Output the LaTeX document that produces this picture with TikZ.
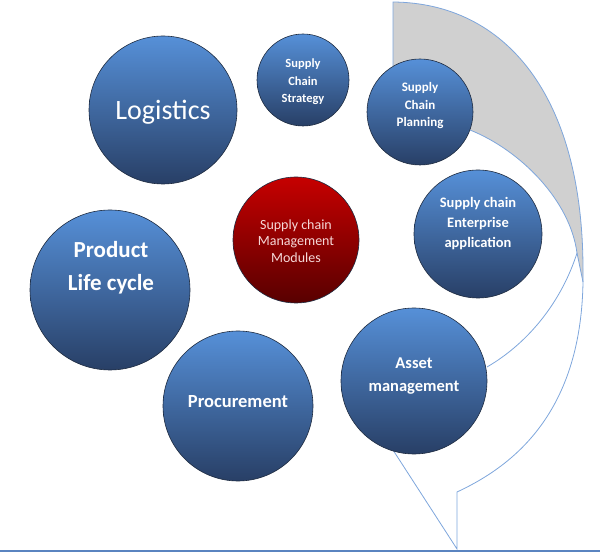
\documentclass[tikz,border=0pt]{standalone}
\usepackage{fontspec}
\setmainfont{Carlito}
\definecolor{bubtop}{HTML}{5690D8}
\definecolor{bubbot}{HTML}{283F66}
\definecolor{bubedge}{HTML}{1E2B40}
\definecolor{redtop}{HTML}{C60000}
\definecolor{redbot}{HTML}{580000}
\definecolor{redtext}{HTML}{F6D8D8}
\definecolor{callout}{HTML}{7EA6DC}
\definecolor{wedge}{HTML}{D0D0D0}
\definecolor{basecol}{HTML}{5A84C0}
\begin{document}
\begin{tikzpicture}[x=1pt,y=-1pt,
  bubble/.style={circle,draw=bubedge,line width=0.6pt,top color=bubtop,bottom color=bubbot,inner sep=0pt},
  redbubble/.style={bubble,top color=redtop,bottom color=redbot},
  bubtext/.style={text=white,align=center,inner sep=0pt}]
\useasboundingbox (0,0) rectangle (600,553);
% grey band behind the planning bubble
\fill[wedge] (393,66) -- (393,2) .. controls (505,3) and (583,95) .. (583,270) -- (583,282)
  -- (577,253) .. controls (570,200) and (520,150) .. (470,130) -- (420,112) -- cycle;
% callout outline
\draw[callout,line width=0.8pt] (393,66) -- (393,2) .. controls (505,3) and (583,95) .. (583,270)
  .. controls (585,410) and (515,465) .. (457,492) -- (457,549) -- (393,450);
\draw[callout,line width=0.8pt] (470,130) .. controls (520,150) and (570,200) .. (577,253) -- (583,282);
\draw[callout,line width=0.8pt] (577,253) .. controls (562,300) and (530,342) .. (487,367);
\draw[basecol,line width=1.6pt] (0,551) -- (600,551);
% bubbles
\node[bubble,minimum size=148] (logistics) at (163,110) {};
\node[bubble,minimum size=92] (strategy) at (303,80) {};
\node[bubble,minimum size=106] (planning) at (420,112) {};
\node[bubble,minimum size=128] (enterprise) at (478,234) {};
\node[redbubble,minimum size=126] (modules) at (296,240) {};
\node[bubble,minimum size=160] (product) at (110,290) {};
\node[bubble,minimum size=150] (procurement) at (238,406) {};
\node[bubble,minimum size=146] (asset) at (414,381) {};
% texts
\node[bubtext,font=\fontsize{28}{32}\selectfont] (logisticstext) at (163,112) {Logistics};
\node[bubtext,font=\bfseries\fontsize{12.5}{17.5}\selectfont] (strategytext) at (303,82) {Supply\\Chain\\Strategy};
\node[bubtext,font=\bfseries\fontsize{13}{17.5}\selectfont] (planningtext) at (420,106) {Supply\\Chain\\Planning};
\node[bubtext,font=\bfseries\fontsize{14.5}{20}\selectfont] (enterprisetext) at (478,224) {Supply chain\\Enterprise\\application};
\node[bubtext,text=redtext,font=\fontsize{14}{16.5}\selectfont] (modulestext) at (296,241) {Supply chain\\Management\\Modules};
\node[bubtext,font=\bfseries\fontsize{23}{33}\selectfont] (producttext) at (111,268) {Product\\Life cycle};
\node[bubtext,font=\bfseries\fontsize{18.5}{22}\selectfont] (procurementtext) at (238,402) {Procurement};
\node[bubtext,font=\bfseries\fontsize{16.5}{23}\selectfont] (assettext) at (414,376) {Asset\\management};
\end{tikzpicture}
\end{document}
